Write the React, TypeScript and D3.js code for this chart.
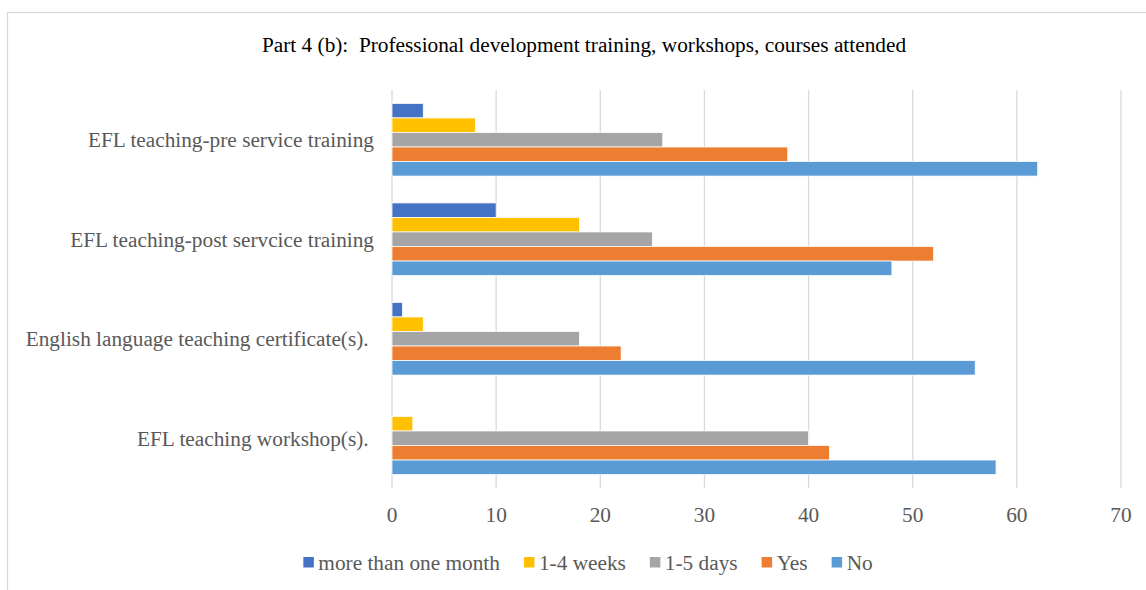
import React, { useEffect, useRef } from "react";
import * as d3 from "d3";

const categories = [
  "EFL teaching-pre service training",
  "EFL teaching-post servcice training",
  "English language teaching certificate(s). ",
  "EFL teaching workshop(s). ",
];
const seriesNames = ["more than one month", "1-4 weeks", "1-5 days", "Yes", "No"];
const seriesColors = ["#4472C4", "#FFC000", "#A5A5A5", "#ED7D31", "#5B9BD5"];
// values per series, in category order
const moreThanOneMonth = [3, 10, 1, 0];
const oneToFourWeeks = [8, 18, 3, 2];
const oneToFiveDays = [26, 25, 18, 40];
const yesValues = [38, 52, 22, 42];
const noValues = [62, 48, 56, 58];
const xTicks = [0, 10, 20, 30, 40, 50, 60, 70];
const title = "Part 4 (b):  Professional development training, workshops, courses attended";

const App: React.FC = () => {
  const svgRef = useRef<SVGSVGElement>(null);

  useEffect(() => {
    if (!svgRef.current) return;
    const width = 1146;
    const height = 590;
    const margin = { top: 90, right: 25, bottom: 102, left: 392 };
    const font = "'Liberation Serif', 'Times New Roman', serif";
    const textGray = "#595959";
    const fontSize = 21.3;

    const svg = d3.select(svgRef.current);
    svg.selectAll("*").remove();

    // chart border
    svg
      .append("rect")
      .attr("x", 7.5)
      .attr("y", 12.5)
      .attr("width", 1200)
      .attr("height", 700)
      .attr("fill", "#fff")
      .attr("stroke", "#D9D9D9")
      .attr("stroke-width", 1.3);

    svg
      .append("text")
      .attr("x", 584)
      .attr("y", 52)
      .attr("text-anchor", "middle")
      .attr("font-family", font)
      .attr("font-size", fontSize)
      .attr("fill", "#000")
      .style("white-space", "pre")
      .text(title);

    const xScale = d3
      .scaleLinear()
      .domain([0, 70])
      .range([margin.left, width - margin.right]);

    const yScale = d3
      .scaleBand<string>()
      .domain(categories)
      .range([margin.top, height - margin.bottom])
      .paddingInner(0.27)
      .paddingOuter(0.135);

    const inner = d3
      .scaleBand<string>()
      .domain(seriesNames)
      .range([0, yScale.bandwidth()]);

    // gridlines
    svg
      .append("g")
      .selectAll("line")
      .data(xTicks)
      .join("line")
      .attr("x1", (d) => xScale(d))
      .attr("x2", (d) => xScale(d))
      .attr("y1", margin.top)
      .attr("y2", height - margin.bottom)
      .attr("stroke", "#D9D9D9")
      .attr("stroke-width", 1.3);

    const series = [moreThanOneMonth, oneToFourWeeks, oneToFiveDays, yesValues, noValues];

    seriesNames.forEach((name, si) => {
      svg
        .append("g")
        .selectAll("rect")
        .data(series[si].map((v, ci) => ({ v, cat: categories[ci] })))
        .join("rect")
        .attr("x", xScale(0))
        .attr("y", (d) => (yScale(d.cat) as number) + (inner(name) as number))
        .attr("width", (d) => xScale(d.v) - xScale(0))
        .attr("height", inner.bandwidth())
        .attr("fill", seriesColors[si])
        .attr("stroke", (d) => (d.v > 0 ? "#fff" : "none"))
        .attr("stroke-width", 0.75);
    });

    // category labels
    svg
      .append("g")
      .selectAll("text")
      .data(categories)
      .join("text")
      .attr("x", margin.left - 18)
      .attr("y", (d) => (yScale(d) as number) + yScale.bandwidth() / 2)
      .attr("dy", "0.35em")
      .attr("text-anchor", "end")
      .attr("font-family", font)
      .attr("font-size", fontSize)
      .attr("fill", textGray)
      .style("white-space", "pre")
      .text((d) => d);

    // x tick labels
    svg
      .append("g")
      .selectAll("text")
      .data(xTicks)
      .join("text")
      .attr("x", (d) => xScale(d))
      .attr("y", 522)
      .attr("text-anchor", "middle")
      .attr("font-family", font)
      .attr("font-size", fontSize)
      .attr("fill", textGray)
      .text((d) => d);

    // legend
    const legend = svg.append("g");
    const items = legend
      .selectAll("g")
      .data(seriesNames)
      .join("g");
    items
      .append("rect")
      .attr("width", 10.5)
      .attr("height", 10.5)
      .attr("y", 557)
      .attr("fill", (_, i) => seriesColors[i]);
    items
      .append("text")
      .attr("x", 15)
      .attr("y", 570)
      .attr("font-family", font)
      .attr("font-size", fontSize)
      .attr("fill", textGray)
      .text((d) => d);

    let cursor = 0;
    const offsets: number[] = [];
    items.each(function () {
      offsets.push(cursor);
      const t = d3.select(this).select("text").node() as SVGTextElement;
      cursor += 15 + t.getComputedTextLength() + 24;
    });
    const total = cursor - 24;
    const start = 588 - total / 2;
    items.attr("transform", (_, i) => `translate(${start + offsets[i]},0)`);
  }, []);

  return (
    <svg
      ref={svgRef}
      width={1146}
      height={590}
      style={{ position: "absolute", left: 0, top: 0 }}
    ></svg>
  );
};

export default App;
